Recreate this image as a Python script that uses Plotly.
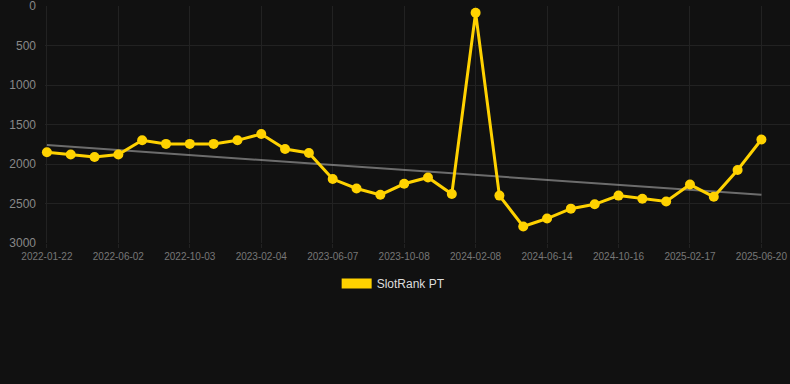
import plotly.graph_objects as go

# Data
tick_labels = ["2022-01-22", "2022-06-02", "2022-10-03", "2023-02-04", "2023-06-07", "2023-10-08",
               "2024-02-08", "2024-06-14", "2024-10-16", "2025-02-17", "2025-06-20"]
ranks = [1850, 1880, 1910, 1880, 1700, 1745, 1745, 1745, 1700, 1620,
         1810, 1860, 2190, 2310, 2390, 2250, 2170, 2380, 85, 2400,
         2790, 2690, 2565, 2510, 2400, 2440, 2475, 2260, 2415, 2075, 1690]
trend_values = [1760, 2390]
y_ticks = [0, 500, 1000, 1500, 2000, 2500, 3000]
series_name = "SlotRank PT"

idx = list(range(len(ranks)))
tick_pos = idx[::3]

fig = go.Figure()
fig.add_trace(go.Scatter(
    x=[idx[0], idx[-1]], y=trend_values, mode="lines",
    line=dict(color="rgba(170,170,170,0.6)", width=2),
    showlegend=False, hoverinfo="skip"))
fig.add_trace(go.Scatter(
    x=idx, y=ranks, mode="lines+markers",
    line=dict(color="#FFD200", width=3),
    marker=dict(color="#FFD200", size=10),
    showlegend=False, cliponaxis=False))
fig.add_trace(go.Scatter(
    x=[None], y=[None], mode="lines", name=series_name,
    line=dict(color="#FFD200", width=12), showlegend=True))

fig.update_layout(
    width=790, height=384,
    paper_bgcolor="#111111", plot_bgcolor="#111111",
    margin=dict(l=45, r=0, t=6, b=141),
    font=dict(family="Liberation Sans, Arial, sans-serif", color="#888888"),
    xaxis=dict(range=[-0.08, 31.2], tickvals=tick_pos, ticktext=tick_labels,
               showgrid=True, gridcolor="#222222", zeroline=False, showline=False,
               tickfont=dict(size=10, color="#777777"), ticks="outside", ticklen=4,
               tickcolor="#222222"),
    yaxis=dict(range=[3000, -1], tickvals=y_ticks, ticktext=[str(v) for v in y_ticks],
               showgrid=True, gridcolor="#222222", zeroline=False, showline=False,
               tickfont=dict(size=12, color="#888888"), ticklabelstandoff=8,
               ticklabeloverflow="allow"),
    legend=dict(orientation="h", x=0.468, xanchor="center", y=-0.11, yanchor="top",
                font=dict(size=12, color="#dddddd"), bgcolor="rgba(0,0,0,0)"),
)

fig.write_html("out.html", config={"displayModeBar": False},
               post_script="document.body.style.margin='0';document.body.style.background='#111111';")
